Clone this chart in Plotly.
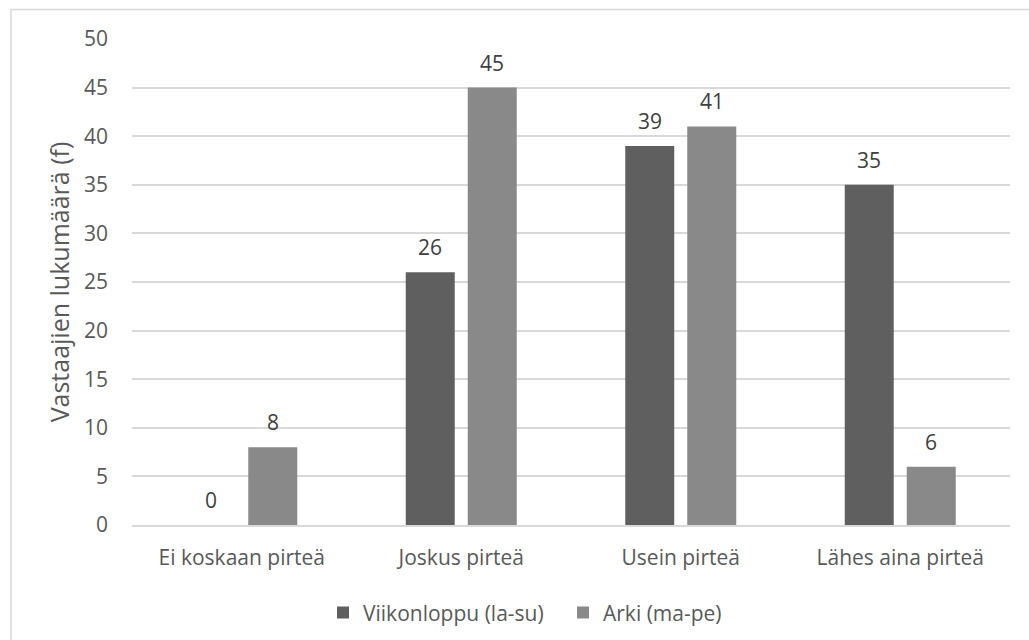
import plotly.graph_objects as go

categories = ["Ei koskaan pirteä", "Joskus pirteä", "Usein pirteä", "Lähes aina pirteä"]
weekend = [0, 26, 39, 35]
weekday = [8, 45, 41, 6]
series_names = ["Viikonloppu (la-su)", "Arki (ma-pe)"]
series_colors = ["#5f5f5f", "#898989"]
y_ticks = list(range(0, 55, 5))

FONT = "Open Sans"
TEXT = "#595959"
SIZE = 21

fig = go.Figure()
for name, vals, color in zip(series_names, [weekend, weekday], series_colors):
    fig.add_trace(go.Bar(
        x=categories, y=vals, name=name,
        marker=dict(color=color, line=dict(width=0)),
    ))

# value labels sit above each bar, offset to the bar's slot within the group
annotations = []
for vals, dx in [(weekend, -31), (weekday, 31)]:
    for cat, v in zip(categories, vals):
        annotations.append(dict(
            x=cat, y=v, xref="x", yref="y", text=str(v), showarrow=False,
            xshift=dx, yshift=25, yanchor="middle", xanchor="center",
            font=dict(family=FONT, size=SIZE, color="#404040"),
        ))

fig.update_layout(
    width=1029, height=640,
    margin=dict(l=132, r=19, t=39, b=115, autoexpand=False),
    paper_bgcolor="white", plot_bgcolor="white",
    barmode="group", bargap=0.435, bargroupgap=0.21,
    font=dict(family=FONT, size=SIZE, color=TEXT),
    showlegend=True,
    legend=dict(orientation="h", x=(362 - 39 - 132) / 878, xanchor="left",
                y=-0.181, yanchor="middle", entrywidth=195,
                font=dict(family=FONT, size=SIZE, color=TEXT), itemwidth=30,
                traceorder="normal"),
    xaxis=dict(showgrid=False, showline=True, linecolor="#d9d9d9", linewidth=1.5,
               automargin=False,
               ticks="", ticklabelstandoff=13, tickfont=dict(size=SIZE, color=TEXT)),
    yaxis=dict(range=[0, 50], tickvals=y_ticks, showgrid=True, gridcolor="#d9d9d9",
               gridwidth=1.5, zeroline=False, showline=False, ticks="",
               automargin=False,
               ticklabelstandoff=23, tickfont=dict(size=SIZE, color=TEXT),
               title=dict(text="Vastaajien lukumäärä (f)", standoff=7,
                          font=dict(size=25, color=TEXT))),
    annotations=annotations,
    shapes=[dict(type="rect", xref="paper", yref="paper",
                 x0=(11 - 132) / 878, x1=(1040 - 132) / 878,
                 y0=(525 - 660) / 486, y1=(525 - 9.5) / 486,
                 line=dict(color="#d9d9d9", width=1.5), fillcolor="rgba(0,0,0,0)",
                 layer="below")],
)

fig.write_html("out.html")
